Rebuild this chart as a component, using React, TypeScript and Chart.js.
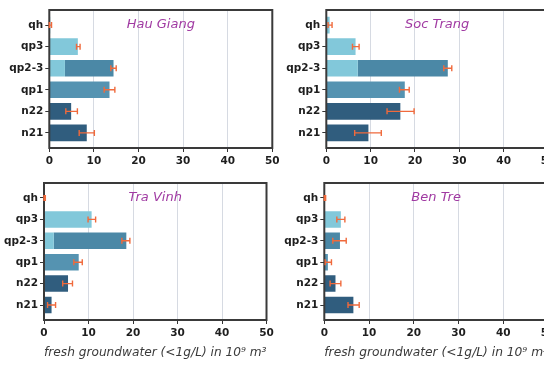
import React, { useEffect, useRef } from "react";
import { Chart, registerables } from "chart.js";
Chart.register(...registerables);

// ---------- data ----------
const categories = ["qh", "qp3", "qp2-3", "qp1", "n22", "n21"];
const xTickValues = [0, 10, 20, 30, 40, 50];
const xAxisTitle = "fresh groundwater (<1g/L) in 10\u2079 m\u00B3";

// Hau Giang
const hauGiangBase = [0.2, 6.4, 3.5, 13.5, 4.9, 8.4];
const hauGiangUpper = [0, 0, 10.9, 0, 0, 0];
const hauGiangErrLow = [0.0, 6.1, 13.8, 12.3, 3.7, 6.7];
const hauGiangErrHigh = [0.5, 6.9, 15.0, 14.7, 6.3, 10.1];

// Soc Trang
const socTrangBase = [0.75, 6.6, 7.1, 17.7, 16.7, 9.5];
const socTrangUpper = [0, 0, 20.3, 0, 0, 0];
const socTrangErrLow = [0.4, 5.9, 26.5, 16.5, 13.7, 6.4];
const socTrangErrHigh = [1.3, 7.4, 28.3, 18.7, 19.8, 12.4];

// Tra Vinh
const traVinhBase = [0.1, 10.7, 2.2, 7.8, 5.4, 1.7];
const traVinhUpper = [0, 0, 16.3, 0, 0, 0];
const traVinhErrLow = [0.0, 9.9, 17.5, 6.7, 4.2, 0.8];
const traVinhErrHigh = [0.3, 11.6, 19.3, 8.6, 6.4, 2.6];

// Ben Tre
const benTreBase = [0.1, 3.7, 0.0, 0.8, 2.5, 6.5];
const benTreUpper = [0, 0, 3.5, 0, 0, 0];
const benTreErrLow = [0.0, 2.8, 1.9, 0.2, 1.3, 5.3];
const benTreErrHigh = [0.3, 4.6, 4.9, 1.6, 3.7, 7.8];

// ---------- styles ----------
const LIGHT = "#82c8da";
const MID = "#5593b1";
const UPPER = "#4b88a6";
const DARK = "#305d7e";
const baseColors = [LIGHT, LIGHT, LIGHT, MID, DARK, DARK];
const ERR = "#f06a3c";
const FONT = '"DejaVu Sans", Verdana, sans-serif';

type PanelCfg = {
  title: string;
  base: number[];
  upper: number[];
  errLow: number[];
  errHigh: number[];
  showTitle: boolean;
  cx: number; cy: number; cw: number; ch: number;
  L: number; R: number; T: number; B: number;
  xh: number;
};

const panels: PanelCfg[] = [
  { title: "Hau Giang", base: hauGiangBase, upper: hauGiangUpper, errLow: hauGiangErrLow, errHigh: hauGiangErrHigh, showTitle: false,
    cx: 0, cy: 0, cw: 290, ch: 172, L: 49.3, R: 272.3, T: 10, B: 148, xh: 20 },
  { title: "Soc Trang", base: socTrangBase, upper: socTrangUpper, errLow: socTrangErrLow, errHigh: socTrangErrHigh, showTitle: false,
    cx: 272, cy: 0, cw: 290, ch: 172, L: 326.3, R: 548, T: 10, B: 148, xh: 20 },
  { title: "Tra Vinh", base: traVinhBase, upper: traVinhUpper, errLow: traVinhErrLow, errHigh: traVinhErrHigh, showTitle: true,
    cx: 0, cy: 172, cw: 290, ch: 195, L: 44, R: 266.5, T: 183, B: 320, xh: 42 },
  { title: "Ben Tre", base: benTreBase, upper: benTreUpper, errLow: benTreErrLow, errHigh: benTreErrHigh, showTitle: true,
    cx: 272, cy: 172, cw: 290, ch: 195, L: 324.3, R: 548, T: 183, B: 320, xh: 42 },
];

function Panel({ p }: { p: PanelCfg }) {
  const ref = useRef<HTMLCanvasElement | null>(null);
  useEffect(() => {
    if (!ref.current) return;
    const yw = p.L - p.cx;
    const decor = {
      id: "decor",
      afterDatasetsDraw(chart: any) {
        const { ctx, chartArea: a, scales } = chart;
        const x = scales.x, y = scales.y;
        ctx.save();
        ctx.strokeStyle = "#3a3a3a";
        ctx.lineWidth = 2;
        ctx.strokeRect(a.left, a.top, a.right - a.left, a.bottom - a.top);
        ctx.strokeStyle = ERR;
        ctx.lineWidth = 1.4;
        p.errLow.forEach((lo, i) => {
          const hi = p.errHigh[i];
          const py = y.getPixelForValue(i);
          const x1 = x.getPixelForValue(lo);
          const x2 = x.getPixelForValue(hi);
          ctx.beginPath();
          ctx.moveTo(x1, py); ctx.lineTo(x2, py);
          ctx.moveTo(x1, py - 3); ctx.lineTo(x1, py + 3);
          ctx.moveTo(x2, py - 3); ctx.lineTo(x2, py + 3);
          ctx.stroke();
        });
        ctx.font = `italic 13px ${FONT}`;
        ctx.fillStyle = "#a03aa2";
        ctx.textAlign = "center";
        ctx.textBaseline = "middle";
        ctx.fillText(p.title, (a.left + a.right) / 2, a.top + 15);
        ctx.restore();
      },
    };
    const chart = new Chart(ref.current, {
      type: "bar",
      data: {
        datasets: [
          {
            data: p.base.map((v, i) => ({ x: v, y: i })),
            backgroundColor: baseColors,
            borderWidth: 0,
            barPercentage: 0.77,
            categoryPercentage: 1,
          },
          {
            data: p.upper.map((v, i) => ({ x: v, y: i })),
            backgroundColor: UPPER,
            borderWidth: 0,
            barPercentage: 0.77,
            categoryPercentage: 1,
          },
        ],
      },
      options: {
        indexAxis: "y",
        responsive: false,
        animation: false,
        devicePixelRatio: 1,
        layout: {
          padding: {
            left: 0,
            top: p.T - p.cy,
            right: p.cx + p.cw - p.R,
            bottom: p.cy + p.ch - p.B - p.xh,
          },
        },
        plugins: { legend: { display: false }, tooltip: { enabled: false }, title: { display: false } },
        scales: {
          x: {
            type: "linear",
            stacked: true,
            min: 0,
            max: 50,
            offset: false,
            afterBuildTicks: (s: any) => { s.ticks = xTickValues.map((v) => ({ value: v })); },
            afterFit: (s: any) => { s.height = p.xh; },
            ticks: { font: { family: FONT, size: 10.5, weight: "bold" }, color: "#1e1e1e", padding: 3, maxRotation: 0 },
            grid: { color: "#d6dae2", lineWidth: 1, tickColor: "#333", tickLength: 4, offset: false },
            border: { display: false },
            title: {
              display: p.showTitle,
              text: xAxisTitle,
              font: { family: FONT, size: 12.5, style: "italic" },
              color: "#3a3a3a",
              padding: { top: 0, bottom: 1.5 },
            },
          },
          y: {
            type: "linear",
            stacked: true,
            reverse: true,
            offset: false,
            min: -0.7,
            max: 5.7,
            afterBuildTicks: (s: any) => { s.ticks = categories.map((_, i) => ({ value: i })); },
            afterFit: (s: any) => { s.width = yw; },
            ticks: {
              callback: (v: any) => categories[v] ?? "",
              font: { family: FONT, size: 10.5, weight: "bold" },
              color: "#1e1e1e",
              padding: 2,
            },
            grid: { drawOnChartArea: false, tickColor: "#333", tickLength: 4, offset: false },
            border: { display: false },
          },
        },
      },
      plugins: [decor],
    } as any);
    return () => chart.destroy();
  }, [p]);
  return (
    <canvas
      ref={ref}
      width={p.cw}
      height={p.ch}
      style={{ position: "absolute", left: p.cx, top: p.cy, width: p.cw, height: p.ch }}
    />
  );
}

export default function App() {
  return (
    <div
      style={{
        position: "fixed",
        left: 0,
        top: 0,
        width: 544,
        height: 367,
        overflow: "hidden",
        background: "#ffffff",
      }}
    >
      {panels.map((p) => (
        <Panel key={p.title} p={p} />
      ))}
    </div>
  );
}
